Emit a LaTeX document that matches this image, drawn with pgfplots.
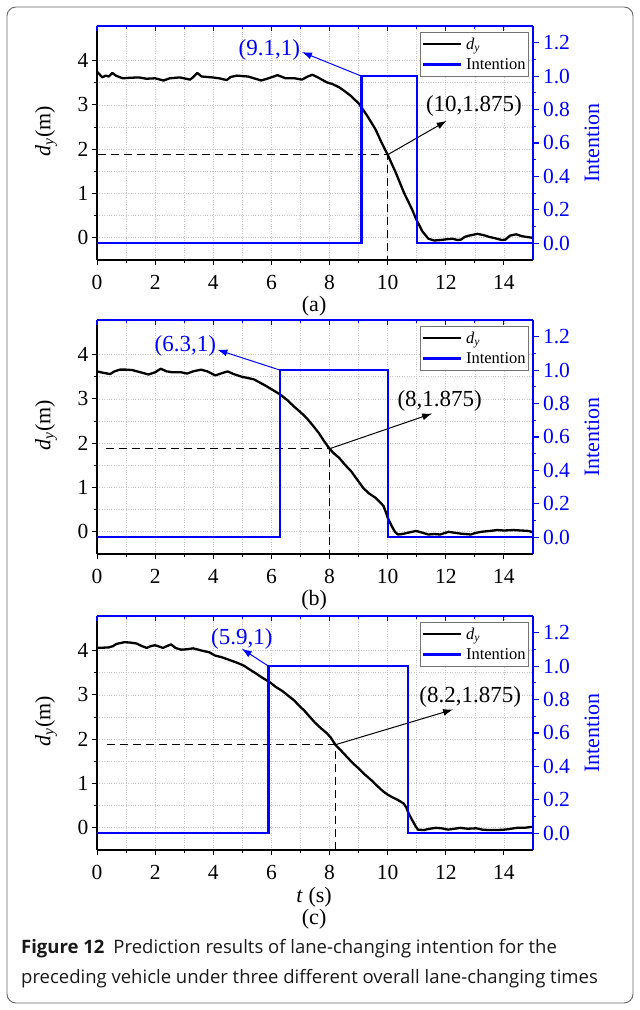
\documentclass[border=0pt]{standalone}
\usepackage{fontspec}
\setmainfont{Liberation Serif}
\newfontfamily\capfont{Open Sans}
\usepackage{pgfplots}
\pgfplotsset{compat=1.18}
\usetikzlibrary{arrows.meta}

\newcommand{\dy}{\textit{d}\textsubscript{\textit{y}}}

\tikzset{
  annot/.style={font=\fontsize{23}{26}\selectfont},
  arr/.style={line width=1pt, -{Latex[length=10pt, width=7pt]}},
}

\pgfplotsset{
  leftax/.style={
    scale only axis, width=436pt, height=234pt,
    xmin=0, xmax=15, ymin=-0.5, ymax=4.78,
    clip=false,
    axis x line*=bottom, axis y line*=left,
    axis line style={-, black, line width=1.2pt},
    xtick={0,2,4,6,8,10,12,14}, ytick={0,1,2,3,4},
    minor x tick num=1, minor y tick num=1,
    tick align=outside,
    major tick length=5pt, minor tick length=3pt,
    tick style={black, line width=1pt},
    grid=both,
    major grid style={black!22, dotted, line width=0.7pt},
    minor grid style={black!22, dotted, line width=0.7pt},
    ticklabel style={font=\fontsize{21.5}{24}\selectfont},
    xticklabel style={yshift=-7pt},
    /pgf/number format/assume math mode=true,
    ylabel={\dy(m)},
    ylabel style={font=\fontsize{22}{26}\selectfont, at={(axis description cs:-0.117,0.55)}, anchor=center},
  },
  rightax/.style={
    scale only axis, width=436pt, height=234pt,
    xmin=0, xmax=15, ymin=-0.1, ymax=1.3,
    clip=false,
    axis x line*=top, axis y line*=right,
    axis line style={-, blue, line width=1.6pt},
    xtick={0,2,4,6,8,10,12,14}, xticklabels={}, minor x tick num=1, xtick align=inside,
    ytick={0,0.2,0.4,0.6,0.8,1.0,1.2}, minor y tick num=1, ytick align=outside,
    major tick length=5.5pt, minor tick length=3pt,
    tick style={blue, line width=1.1pt},
    /pgf/number format/assume math mode=true,
    yticklabel style={blue, xshift=1pt, font=\fontsize{21.5}{24}\selectfont, /pgf/number format/.cd, fixed, fixed zerofill, precision=1},
    ylabel={Intention},
    ylabel style={blue, font=\fontsize{22}{26}\selectfont, at={(axis description cs:1.135,0.5)}, anchor=center, rotate=0},
    legend style={at={(axis description cs:0.991,0.976)}, anchor=north east, draw=black!55, line width=0.9pt, fill=white,
      font=\fontsize{16.5}{18}\selectfont, inner xsep=1pt, inner ysep=3.5pt, row sep=4pt,
      /tikz/every odd column/.append style={column sep=2pt}},
    legend cell align=left,
    legend image code/.code={\draw[#1, line width=2.6pt] (0pt,0pt) -- (38pt,0pt);},
  },
  dyline/.style={black, line width=2.3pt, line join=round},
  intline/.style={blue, line width=2.3pt},
  dashln/.style={black, line width=1.3pt, dash pattern=on 8pt off 5pt},
}

\begin{document}
\begin{tikzpicture}
\useasboundingbox (0pt,0pt) rectangle (640pt,1010pt);
\fill[white] (0pt,0pt) rectangle (640pt,1010pt);
\draw[rounded corners=9pt, line width=0.9pt, black!60] (7pt,7pt) rectangle (633pt,1003pt);

% ---------------- panel (a) ----------------
\begin{axis}[leftax, at={(97pt,750pt)}, anchor=south west]
\addplot[dyline] coordinates {
(0,3.75) (0.1,3.68) (0.18,3.62) (0.3,3.66) (0.4,3.64) (0.53,3.72) (0.65,3.66) (0.88,3.6) (1.1,3.61) (1.44,3.62) (1.7,3.59) (2.0,3.6) (2.29,3.55) (2.5,3.6) (2.85,3.62) (3.2,3.57) (3.3,3.62) (3.45,3.72) (3.6,3.64) (3.97,3.62) (4.2,3.6) (4.46,3.56) (4.6,3.63) (4.81,3.66) (5.2,3.64) (5.65,3.55) (5.9,3.6) (6.21,3.67) (6.49,3.6) (6.8,3.6) (7.05,3.57) (7.25,3.64) (7.41,3.68) (7.6,3.62) (7.9,3.51) (8.1,3.47) (8.32,3.4) (8.5,3.32) (8.74,3.2) (9.02,3.02) (9.3,2.75) (9.58,2.45) (9.79,2.15) (10.0,1.875) (10.28,1.47) (10.56,1.02) (10.84,0.64) (10.98,0.42) (11.19,0.15) (11.4,-0.02) (11.6,-0.06) (11.82,-0.05) (12.05,-0.03) (12.24,-0.02) (12.4,-0.05) (12.52,-0.04) (12.65,0.02) (12.8,0.05) (13.09,0.09) (13.3,0.06) (13.5,0.02) (13.7,-0.01) (13.93,-0.05) (14.05,-0.04) (14.21,0.05) (14.42,0.08) (14.6,0.04) (14.77,0.02) (15,0.0)};
\addplot[dashln] coordinates {(0.05,1.875) (10,1.875) (10,-0.5)};
\draw[arr, black] (axis cs:10,1.875) -- (axis cs:12.03,2.64);
\node[annot, black] at (axis cs:12.97,2.98) {(10,1.875)};
\node[font=\fontsize{22}{26}\selectfont] at (axis description cs:0.498,-0.196) {(a)};
\end{axis}
\begin{axis}[rightax, at={(97pt,750pt)}, anchor=south west]
\addlegendimage{black, line width=2.6pt}
\addlegendentry{\dy}
\addplot[intline] coordinates {(0,0) (9.1,0) (9.1,1) (11,1) (11,0) (15,0)};
\addlegendentry{Intention}
\draw[arr, blue] (axis cs:9.1,1) -- (axis cs:7.05,1.144);
\node[annot, blue] at (axis cs:5.93,1.154) {(9.1,1)};
\end{axis}

% ---------------- panel (b) ----------------
\begin{axis}[leftax, at={(97pt,456pt)}, anchor=south west]
\addplot[dyline] coordinates {
(0,3.62) (0.2,3.59) (0.45,3.56) (0.6,3.62) (0.79,3.66) (1.0,3.66) (1.21,3.65) (1.5,3.6) (1.77,3.55) (2.0,3.6) (2.19,3.68) (2.4,3.62) (2.61,3.6) (2.9,3.6) (3.1,3.57) (3.3,3.62) (3.58,3.66) (3.8,3.62) (4.07,3.53) (4.3,3.58) (4.49,3.62) (4.7,3.56) (4.98,3.5) (5.2,3.47) (5.4,3.44) (5.6,3.37) (5.82,3.29) (6.05,3.2) (6.3,3.1) (6.55,2.97) (6.79,2.82) (7.0,2.7) (7.21,2.57) (7.45,2.38) (7.63,2.23) (7.82,2.04) (8.0,1.875) (8.15,1.77) (8.33,1.67) (8.55,1.5) (8.74,1.37) (8.95,1.18) (9.16,0.99) (9.35,0.87) (9.58,0.77) (9.75,0.66) (9.86,0.58) (9.95,0.42) (10.0,0.32) (10.14,0.13) (10.25,0.0) (10.35,-0.06) (10.5,-0.05) (10.7,-0.02) (10.98,0.02) (11.2,-0.02) (11.4,-0.06) (11.6,-0.05) (11.81,-0.06) (12.09,0.0) (12.3,-0.02) (12.51,-0.04) (12.86,-0.06) (13.0,-0.03) (13.21,0.0) (13.5,0.02) (13.77,0.04) (14.0,0.03) (14.32,0.04) (14.6,0.03) (14.85,0.02) (15,-0.01)};
\addplot[dashln] coordinates {(0.3,1.875) (8,1.875) (8,-0.5)};
\draw[arr, black] (axis cs:8,1.875) -- (axis cs:11.53,2.67);
\node[annot, black] at (axis cs:11.79,2.95) {(8,1.875)};
\node[font=\fontsize{22}{26}\selectfont] at (axis description cs:0.498,-0.196) {(b)};
\end{axis}
\begin{axis}[rightax, at={(97pt,456pt)}, anchor=south west]
\addlegendimage{black, line width=2.6pt}
\addlegendentry{\dy}
\addplot[intline] coordinates {(0,0) (6.3,0) (6.3,1) (10,1) (10,0) (15,0)};
\addlegendentry{Intention}
\draw[arr, blue] (axis cs:6.3,1) -- (axis cs:4.14,1.122);
\node[annot, blue] at (axis cs:3.04,1.144) {(6.3,1)};
\end{axis}

% ---------------- panel (c) ----------------
\begin{axis}[leftax, at={(97pt,160pt)}, anchor=south west]
\addplot[dyline] coordinates {
(0,4.06) (0.39,4.07) (0.55,4.1) (0.67,4.15) (0.95,4.19) (1.15,4.18) (1.36,4.16) (1.55,4.1) (1.71,4.06) (1.85,4.1) (1.99,4.12) (2.1,4.1) (2.27,4.06) (2.4,4.1) (2.55,4.14) (2.7,4.06) (2.89,4.02) (3.1,4.03) (3.31,4.05) (3.6,4.0) (3.87,3.96) (4.05,3.89) (4.29,3.85) (4.55,3.79) (4.84,3.72) (5.05,3.66) (5.26,3.57) (5.48,3.48) (5.68,3.39) (5.96,3.28) (6.15,3.18) (6.37,3.09) (6.58,2.98) (6.79,2.87) (6.95,2.76) (7.14,2.64) (7.3,2.52) (7.49,2.38) (7.7,2.25) (7.9,2.14) (8.05,2.03) (8.2,1.875) (8.4,1.74) (8.6,1.6) (8.8,1.46) (9.02,1.33) (9.22,1.2) (9.43,1.08) (9.65,0.94) (9.85,0.82) (10.0,0.75) (10.13,0.7) (10.35,0.63) (10.55,0.55) (10.65,0.45) (10.69,0.37) (10.76,0.28) (10.83,0.19) (10.95,0.05) (11.04,-0.04) (11.24,-0.05) (11.45,-0.02) (11.66,0.0) (11.85,-0.01) (12.08,-0.04) (12.3,-0.02) (12.5,0.0) (12.75,-0.02) (13.05,-0.01) (13.25,-0.04) (13.47,-0.05) (13.75,-0.05) (14.03,-0.04) (14.25,-0.02) (14.44,0.0) (14.7,0.0) (14.93,0.02) (15,0.02)};
\addplot[dashln] coordinates {(0.36,1.875) (8.2,1.875) (8.2,-0.5)};
\draw[arr, black] (axis cs:8.2,1.875) -- (axis cs:12.25,2.67);
\node[annot, black] at (axis cs:12.84,2.96) {(8.2,1.875)};
\node[font=\fontsize{22}{26}\selectfont] at (axis description cs:0.498,-0.2) {\textit{t} (s)};
\node[font=\fontsize{22}{26}\selectfont] at (axis description cs:0.498,-0.297) {(c)};
\end{axis}
\begin{axis}[rightax, at={(97pt,160pt)}, anchor=south west]
\addlegendimage{black, line width=2.6pt}
\addlegendentry{\dy}
\addplot[intline] coordinates {(0,0) (5.9,0) (5.9,1) (10.7,1) (10.7,0) (15,0)};
\addlegendentry{Intention}
\draw[arr, blue] (axis cs:5.9,1) -- (axis cs:4.98,1.104);
\node[annot, blue] at (axis cs:4.98,1.165) {(5.9,1)};
\end{axis}

% ---------------- caption ----------------
\node[anchor=base west, inner sep=0, font=\capfont\fontsize{18.5}{22}\selectfont, text=black!90] at (21pt,56pt)
  {\textbf{Figure 12}\hspace{9pt}Prediction results of lane-changing intention for the};
\node[anchor=base west, inner sep=0, font=\capfont\fontsize{18.5}{22}\selectfont, text=black!90] at (21pt,27pt)
  {preceding vehicle under three different overall lane-changing times};
\end{tikzpicture}
\end{document}
